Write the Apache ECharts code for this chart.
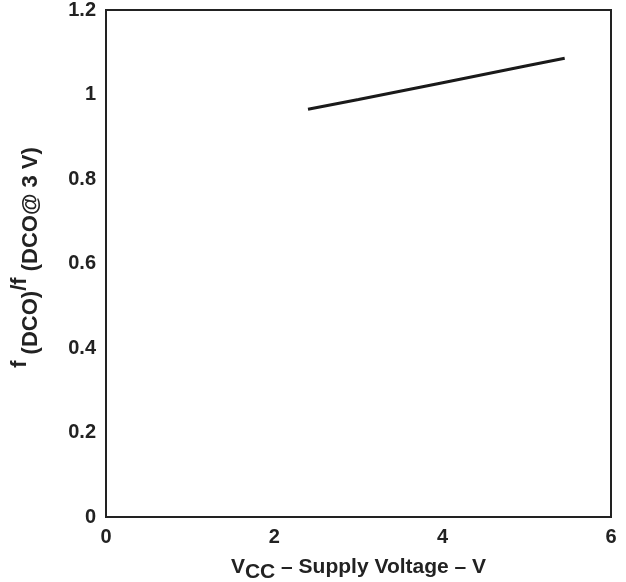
<!DOCTYPE html>
<html>
<head>
<meta charset="utf-8">
<script src="https://cdn.jsdelivr.net/npm/echarts@6/dist/echarts.min.js"></script>
<style>
    html, body { margin: 0; padding: 0; background: #fff; }
    #chart { width: 626px; height: 582px; }
</style>
</head>
<body>
<div id="chart"></div>
<script>
var vcc = [2.4, 3, 4, 5, 5.45];
var ratio = [0.965, 0.988, 1.028, 1.068, 1.086];
var xTicks = [0, 2, 4, 6];
var yTicks = [0, 0.2, 0.4, 0.6, 0.8, 1, 1.2];

var fontFam = '"Liberation Sans", Arial, sans-serif';

var points = vcc.map(function (v, i) {
    return [v, ratio[i]];
});

var option = {
    animation: false,
    backgroundColor: '#fff',
    grid: {
        left: 106,
        top: 10,
        right: 15,
        bottom: 65,
        outerBoundsMode: 'none',
        containLabel: false,
        show: true,
        borderColor: '#222',
        borderWidth: 2,
        backgroundColor: 'transparent'
    },
    xAxis: {
        type: 'value',
        min: 0,
        max: 6,
        interval: 2,
        axisLine: {show: false},
        axisTick: {show: false},
        splitLine: {show: false},
        axisLabel: {
            margin: 10,
            color: '#222',
            fontSize: 20,
            fontWeight: 'bold',
            fontFamily: fontFam
        },
        name: '{b|V}{s|CC}{b| – Supply Voltage – V}',
        nameLocation: 'middle',
        nameGap: 32,
        nameTextStyle: {
            rich: {
                b: {fontSize: 21, fontWeight: 'bold', color: '#222', fontFamily: fontFam, lineHeight: 24},
                s: {fontSize: 21, fontWeight: 'bold', color: '#222', fontFamily: fontFam, padding: [10, 0, 0, 0], lineHeight: 24}
            }
        }
    },
    yAxis: {
        type: 'value',
        min: 0,
        max: 1.2,
        interval: 0.2,
        axisLine: {show: false},
        axisTick: {show: false},
        splitLine: {show: false},
        axisLabel: {
            margin: 10,
            color: '#222',
            fontSize: 20,
            fontWeight: 'bold',
            fontFamily: fontFam,
            formatter: function (v) {
                return String(Math.round(v * 10) / 10);
            }
        },
        name: '{f|f}{s| (DCO)}{b|/f}{s| (DCO@ 3 V)}',
        nameLocation: 'middle',
        nameGap: 74,
        nameRotate: 90,
        nameTextStyle: {
            rich: {
                f: {fontSize: 22, fontWeight: 'bold', color: '#222', fontFamily: fontFam, lineHeight: 24, padding: [0, 0, 0, 12]},
                b: {fontSize: 22, fontWeight: 'bold', color: '#222', fontFamily: fontFam, lineHeight: 24},
                s: {fontSize: 22, fontWeight: 'bold', color: '#222', fontFamily: fontFam, padding: [22, 0, 0, 0], lineHeight: 24}
            }
        }
    },
    series: [
        {
            type: 'line',
            data: points,
            showSymbol: false,
            smooth: false,
            lineStyle: {color: '#1a1a1a', width: 3}
        }
    ]
};

var chart = echarts.init(document.getElementById('chart'));
chart.setOption(option);
</script>
</body>
</html>
